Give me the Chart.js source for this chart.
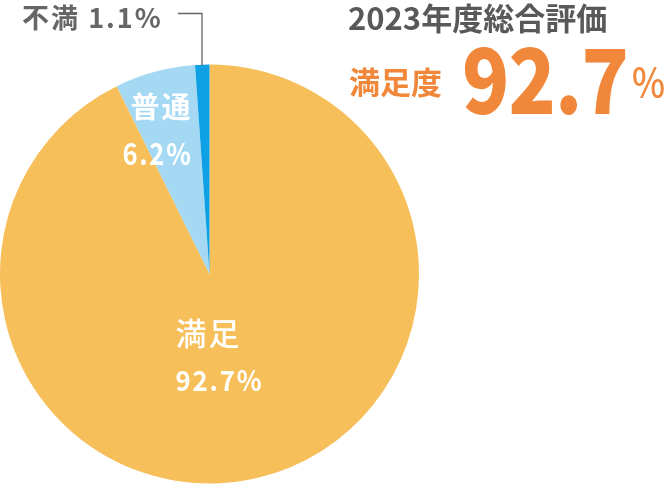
<!DOCTYPE html>
<html>
<head>
<meta charset="utf-8">
<script src="https://cdn.jsdelivr.net/npm/chart.js@4"></script>
<style>
html, body { margin: 0; padding: 0; background: #fff; }
#wrap { width: 669px; height: 485px; }
</style>
</head>
<body>
<div id="wrap"><canvas id="pieChart" width="669" height="485"></canvas></div>
<script>
var labels = ["満足", "普通", "不満"];
var values = [92.7, 6.2, 1.1];
var colors = ["#F6BF59", "#A4D8F3", "#0FA0E5"];
var titleText = "2023年度総合評価";
var scoreLabel = "満足度";
var scoreValue = "92.7";

var JP = '"Noto Sans CJK JP", "Noto Sans", sans-serif';

// texts drawn on top of the pie
var textPlugin = {
	id : 'texts',
	afterDraw : function(chart) {
		var ctx = chart.ctx;
		var arc = chart.getDatasetMeta(0).data[0];
		var cx = arc.x, cy = arc.y, r = arc.outerRadius;
		ctx.save();
		ctx.textBaseline = 'middle';
		ctx.textAlign = 'left';

		// title block on the right
		ctx.fillStyle = '#595959';
		ctx.font = 'bold 31px ' + JP;
		ctx.fillText(titleText, 348, 18, 280);

		ctx.fillStyle = '#F0873A';
		ctx.font = 'bold 31px ' + JP;
		ctx.fillText(scoreLabel, 349, 82, 94);
		ctx.font = '900 90px ' + JP;
		ctx.letterSpacing = '-1px';
		ctx.fillText(scoreValue, 462, 80, 166);
		ctx.letterSpacing = '0px';
		ctx.font = '500 40px ' + JP;
		ctx.fillText('%', 632, 82, 33);

		// 満足
		ctx.fillStyle = '#fff';
		ctx.font = '500 31px ' + JP;
		ctx.letterSpacing = '2px';
		ctx.fillText(labels[0], cx - 34, cy + 59);
		ctx.font = 'bold 28px ' + JP;
		ctx.fillText(values[0] + '%', cx - 34, cy + 106, 88);

		// 普通
		ctx.font = 'bold 29px ' + JP;
		ctx.fillText(labels[1], cx - 79, cy - 167);
		ctx.font = 'bold 30px ' + JP;
		ctx.fillText(values[1] + '%', cx - 87, cy - 120, 70);

		// 不満 with leader line
		ctx.fillStyle = '#666';
		ctx.font = 'bold 27px ' + JP;
		ctx.letterSpacing = '2px';
		ctx.fillText(labels[2] + ' ' + values[2] + '%', 22, 18, 146);
		ctx.letterSpacing = '0px';
		ctx.strokeStyle = '#666';
		ctx.lineWidth = 1.3;
		ctx.beginPath();
		ctx.moveTo(178, 13.5);
		ctx.lineTo(202, 13.5);
		ctx.lineTo(202, cy - r + 1);
		ctx.stroke();
		ctx.restore();
	}
};

var ctxP = document.getElementById("pieChart").getContext('2d');
var myPieChart = new Chart(ctxP, {
	type : 'pie',
	data : {
		labels : labels,
		datasets : [ {
			data : values,
			backgroundColor : colors,
			borderWidth : 0
		} ]
	},
	options : {
		responsive : false,
		animation : false,
		layout : {
			padding : { left : 0, right : 250, top : 64, bottom : 1 }
		},
		plugins : {
			legend : { display : false },
			tooltip : { enabled : false }
		}
	},
	plugins : [ textPlugin ]
});
</script>
</body>
</html>
